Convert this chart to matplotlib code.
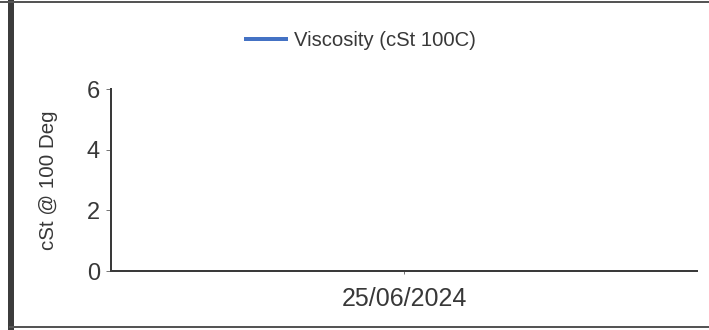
import numpy as np
import matplotlib
matplotlib.use("Agg")
from matplotlib import pyplot as plt
from matplotlib.lines import Line2D

# data (no visible value for the single date)
dates = ["25/06/2024"]
viscosity = [np.nan]
series_name = "Viscosity (cSt 100C)"
y_ticks = [0, 2, 4, 6]

W, H = 709, 330
PX = 0.72  # points per pixel at dpi=100
text_col = "#383838"
blue = "#4472C4"

plt.rcParams['font.family'] = ['Liberation Sans', 'DejaVu Sans']

fig = plt.figure(figsize=(W / 100, H / 100), dpi=100)
fig.patch.set_facecolor("white")

# axes placed in pixel terms
left, right, top, bottom = 111, 697, 89, 271
ax = fig.add_axes([left / W, 1 - bottom / H, (right - left) / W, (bottom - top) / H])

x = np.arange(len(dates))
ax.plot(x, viscosity, color=blue, linewidth=4 * PX, label=series_name)

ax.set_xlim(-0.5, len(dates) - 0.5)
ax.set_ylim(0, 6)
ax.set_yticks(y_ticks)
ax.set_xticks(x)
ax.set_xticklabels(dates)

for s in ["top", "right"]:
    ax.spines[s].set_visible(False)
for s in ["left", "bottom"]:
    ax.spines[s].set_color("#3a3a3a")
    ax.spines[s].set_linewidth(2 * PX)

ax.tick_params(axis="y", direction="out", length=5 * PX, width=1 * PX, color="#777777",
               pad=6 * PX, labelsize=17, labelcolor=text_col)
ax.tick_params(axis="x", direction="out", length=3 * PX, width=1 * PX, color="#777777",
               pad=13 * PX, labelsize=18, labelcolor=text_col)

ax.set_ylabel("cSt @ 100 Deg", fontsize=14.8, color=text_col)
ax.yaxis.set_label_coords((58 - left) / (right - left), 0.5)

leg = fig.legend(loc="center", bbox_to_anchor=(361 / W, 1 - 41 / H), frameon=False,
                 handlelength=2.0, handletextpad=0.4, fontsize=14.6)
for t in leg.get_texts():
    t.set_color(text_col)

# scanned page borders
fig.add_artist(Line2D([11 / W, 11 / W], [0, 1], transform=fig.transFigure,
                      color="#3c3c3c", linewidth=6 * PX))
fig.add_artist(Line2D([0, 1], [1 - 2 / H, 1 - 2 / H], transform=fig.transFigure,
                      color="#555555", linewidth=2 * PX))
fig.add_artist(Line2D([10 / W, 1], [1 - 327 / H, 1 - 327 / H], transform=fig.transFigure,
                      color="#555555", linewidth=2 * PX))

fig.savefig("out.png", dpi=100)
